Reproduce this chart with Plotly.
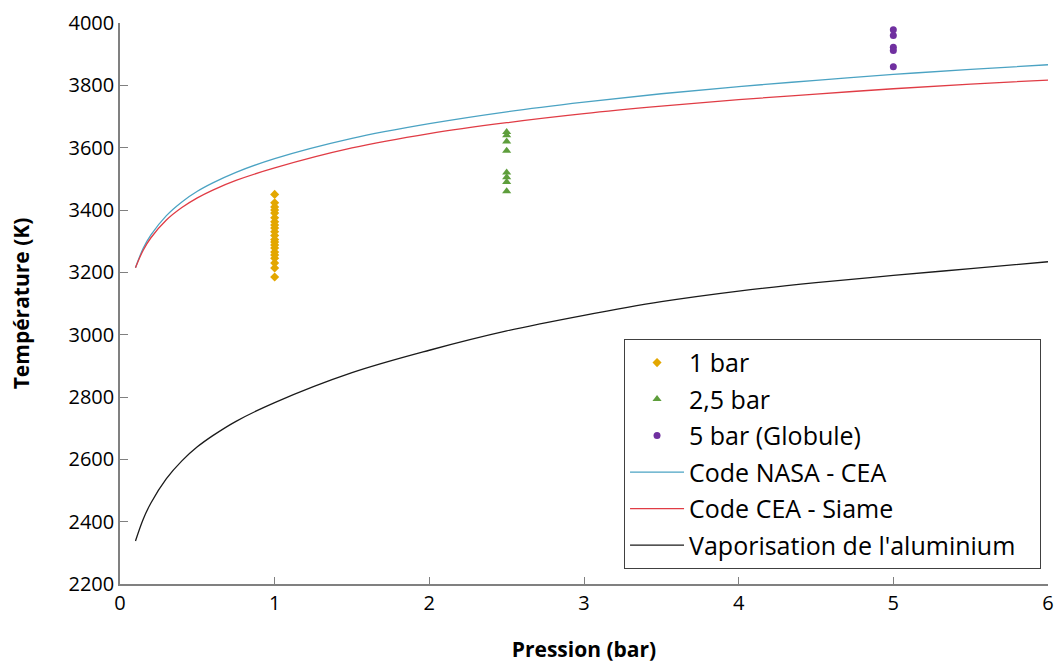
import plotly.graph_objects as go

# Pression (bar) for model curves
p_curve = [0.1, 0.15, 0.2, 0.3, 0.4, 0.5, 0.6, 0.75, 1, 1.5, 2, 2.5, 3, 3.5, 4, 4.5, 5, 5.5, 6]
t_nasa = [3215, 3277, 3320, 3382, 3426, 3460, 3487, 3521, 3565, 3630, 3677, 3715,
          3746, 3773, 3796, 3816, 3835, 3851, 3866]
t_siame = [3215, 3271, 3311, 3368, 3408, 3439, 3464, 3495, 3535, 3599, 3645, 3680,
           3709, 3733, 3754, 3772, 3789, 3804, 3817]
t_vapo = [2338, 2408, 2460, 2538, 2595, 2640, 2676, 2722, 2782, 2878, 2950, 3012,
          3062, 3106, 3140, 3167, 3190, 3212, 3234]

# Mesures
t_1bar = [3450, 3423, 3410, 3400, 3390, 3375, 3362, 3352, 3342, 3330, 3318, 3305,
          3297, 3288, 3278, 3265, 3256, 3245, 3230, 3214, 3185]
t_2_5bar = [3650, 3640, 3620, 3590, 3520, 3505, 3490, 3460]
t_5bar = [3978, 3960, 3922, 3912, 3860]

pad = '\u00a0\u00a0\u00a0'  # keeps some room at the right of the legend box

fig = go.Figure()

fig.add_trace(go.Scatter(
    x=[1] * len(t_1bar), y=t_1bar, mode='markers', name='1 bar' + pad, legendgroup='a',
    marker=dict(symbol='diamond', size=7, color='#E3A700')
))
fig.add_trace(go.Scatter(
    x=[2.5] * len(t_2_5bar), y=t_2_5bar, mode='markers', name='2,5 bar' + pad, legendgroup='b',
    marker=dict(symbol='triangle-up', size=8, color='#5E9E3C')
))
fig.add_trace(go.Scatter(
    x=[5] * len(t_5bar), y=t_5bar, mode='markers', name='5 bar (Globule)' + pad, legendgroup='c',
    marker=dict(symbol='circle', size=7, color='#7030A0')
))
fig.add_trace(go.Scatter(
    x=p_curve, y=t_nasa, mode='lines', name='Code NASA - CEA' + pad, legendgroup='d',
    line=dict(color='#4BA3C3', width=1.3, shape='spline')
))
fig.add_trace(go.Scatter(
    x=p_curve, y=t_siame, mode='lines', name='Code CEA - Siame' + pad, legendgroup='e',
    line=dict(color='#E03C45', width=1.3, shape='spline')
))
fig.add_trace(go.Scatter(
    x=p_curve, y=t_vapo, mode='lines', name="Vaporisation de l'aluminium" + pad, legendgroup='f',
    line=dict(color='#1a1a1a', width=1.3, shape='spline')
))

font_family = "Open Sans, Noto Sans, Liberation Sans, sans-serif"

fig.update_layout(
    width=1058, height=663,
    plot_bgcolor='white', paper_bgcolor='white',
    margin=dict(l=120, r=10, t=23, b=79),
    font=dict(family=font_family, color='#000000', size=19),
    showlegend=True,
    legend=dict(
        x=0.9925, y=0.027, xanchor='right', yanchor='bottom',
        bgcolor='white', bordercolor='#404040', borderwidth=1,
        font=dict(size=25), itemwidth=54,
        tracegroupgap=1
    ),
    xaxis=dict(
        range=[0, 6], dtick=1, showgrid=False, zeroline=False,
        showline=True, linecolor='#808080', linewidth=1.5,
        ticks='inside', ticklen=7, tickcolor='#808080',
        tickfont=dict(size=20), automargin=False, ticklabeloverflow='allow',
        title=dict(text='<b>Pression (bar)</b>', font=dict(size=21), standoff=36)
    ),
    yaxis=dict(
        range=[2200, 4000], dtick=200, showgrid=False, zeroline=False,
        showline=True, linecolor='#808080', linewidth=1.5,
        ticks='inside', ticklen=8, tickcolor='#808080',
        tickfont=dict(size=20), automargin=False,
        title=dict(text='<b>Température (K)</b>', font=dict(size=21), standoff=33)
    )
)

# drop the default 8px page margin so the figure fills the window
fig.write_html("out.html", config={'displayModeBar': False},
               post_script="document.body.style.margin='0';")
